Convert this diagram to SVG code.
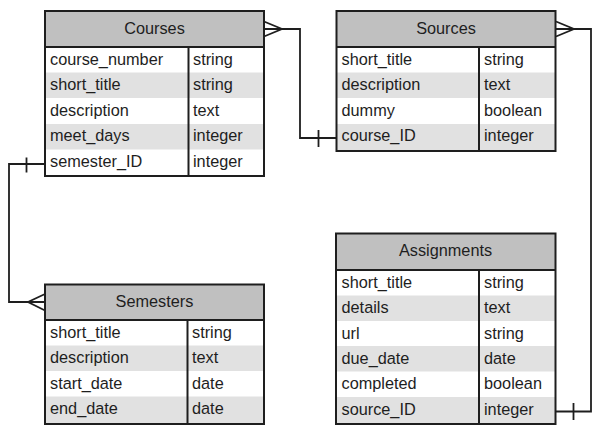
<svg xmlns="http://www.w3.org/2000/svg" width="600" height="438" viewBox="0 0 600 438">
<style>
.bg{fill:#ffffff}
.hd{fill:#c0c0c0}
.st{fill:#e1e1e1}
.bx{fill:none;stroke:#1e1e1e;stroke-width:2}
.dv{stroke:#1e1e1e;stroke-width:2}
.ln{fill:none;stroke:#1e1e1e;stroke-width:1.8}
text{font-family:"Liberation Sans",Arial,sans-serif;font-size:16.3px;fill:#1e1e1e}
.t{text-anchor:middle}
</style>
<rect width="600" height="438" fill="#ffffff"/>
<g id="connectors">
  <path class="ln" d="M264,29 H300 V138 H336"/>
  <path class="ln" d="M264,21.5 L282,29 L264,36.5"/>
  <path class="ln" d="M318.5,130 V147"/>
  <path class="ln" d="M556,29 H591 V411.5 H556"/>
  <path class="ln" d="M556,21.5 L574,29 L556,36.5"/>
  <path class="ln" d="M573.5,403 V420"/>
  <path class="ln" d="M45,164 H9 V302 H45"/>
  <path class="ln" d="M45,294 L28,302 L45,310.5"/>
  <path class="ln" d="M26.5,157.5 V172.5"/>
</g>
<g id="courses">
  <rect class="bg" x="45" y="11" width="219" height="165"/>
  <rect class="hd" x="45" y="11" width="219" height="36"/>
  <rect class="st" x="45" y="72.5" width="219" height="25.5"/>
  <rect class="st" x="45" y="124" width="219" height="25.5"/>
  <line class="dv" x1="45" y1="47" x2="264" y2="47"/>
  <line class="dv" x1="188.5" y1="47" x2="188.5" y2="176"/>
  <rect class="bx" x="45" y="11" width="219" height="165"/>
  <text class="t" x="154.5" y="33.5">Courses</text>
  <text x="50" y="64.5">course_number</text><text x="193" y="64.5">string</text>
  <text x="50" y="90">short_title</text><text x="193" y="90">string</text>
  <text x="50" y="115.5">description</text><text x="193" y="115.5">text</text>
  <text x="50" y="141">meet_days</text><text x="193" y="141">integer</text>
  <text x="50" y="166.5">semester_ID</text><text x="193" y="166.5">integer</text>
</g>
<g id="sources">
  <rect class="bg" x="336.5" y="11" width="219" height="140"/>
  <rect class="hd" x="336.5" y="11" width="219" height="36"/>
  <rect class="st" x="336.5" y="72.5" width="219" height="25.5"/>
  <rect class="st" x="336.5" y="124" width="219" height="27"/>
  <line class="dv" x1="336.5" y1="47" x2="555.5" y2="47"/>
  <line class="dv" x1="479" y1="47" x2="479" y2="151"/>
  <rect class="bx" x="336.5" y="11" width="219" height="140"/>
  <text class="t" x="446" y="33.5">Sources</text>
  <text x="341.5" y="64.5">short_title</text><text x="484" y="64.5">string</text>
  <text x="341.5" y="90">description</text><text x="484" y="90">text</text>
  <text x="341.5" y="115.5">dummy</text><text x="484" y="115.5">boolean</text>
  <text x="341.5" y="141">course_ID</text><text x="484" y="141">integer</text>
</g>
<g id="semesters">
  <rect class="bg" x="45" y="284.5" width="219" height="139.5"/>
  <rect class="hd" x="45" y="284.5" width="219" height="35.5"/>
  <rect class="st" x="45" y="345.5" width="219" height="25.5"/>
  <rect class="st" x="45" y="396.5" width="219" height="27.5"/>
  <line class="dv" x1="45" y1="320" x2="264" y2="320"/>
  <line class="dv" x1="187.5" y1="320" x2="187.5" y2="424"/>
  <rect class="bx" x="45" y="284.5" width="219" height="139.5"/>
  <text class="t" x="154.5" y="306.5">Semesters</text>
  <text x="50" y="337.5">short_title</text><text x="192" y="337.5">string</text>
  <text x="50" y="363">description</text><text x="192" y="363">text</text>
  <text x="50" y="388.5">start_date</text><text x="192" y="388.5">date</text>
  <text x="50" y="414">end_date</text><text x="192" y="414">date</text>
</g>
<g id="assignments">
  <rect class="bg" x="336" y="233.5" width="219.5" height="190.5"/>
  <rect class="hd" x="336" y="233.5" width="219.5" height="36.5"/>
  <rect class="st" x="336" y="295.5" width="219.5" height="25.5"/>
  <rect class="st" x="336" y="346" width="219.5" height="25.5"/>
  <rect class="st" x="336" y="397" width="219.5" height="27"/>
  <line class="dv" x1="336" y1="270" x2="555.5" y2="270"/>
  <line class="dv" x1="479" y1="270" x2="479" y2="424"/>
  <rect class="bx" x="336" y="233.5" width="219.5" height="190.5"/>
  <text class="t" x="445.5" y="256">Assignments</text>
  <text x="341.5" y="287.5">short_title</text><text x="484" y="287.5">string</text>
  <text x="341.5" y="313">details</text><text x="484" y="313">text</text>
  <text x="341.5" y="338.5">url</text><text x="484" y="338.5">string</text>
  <text x="341.5" y="363.5">due_date</text><text x="484" y="363.5">date</text>
  <text x="341.5" y="389">completed</text><text x="484" y="389">boolean</text>
  <text x="341.5" y="414.5">source_ID</text><text x="484" y="414.5">integer</text>
</g>
</svg>
